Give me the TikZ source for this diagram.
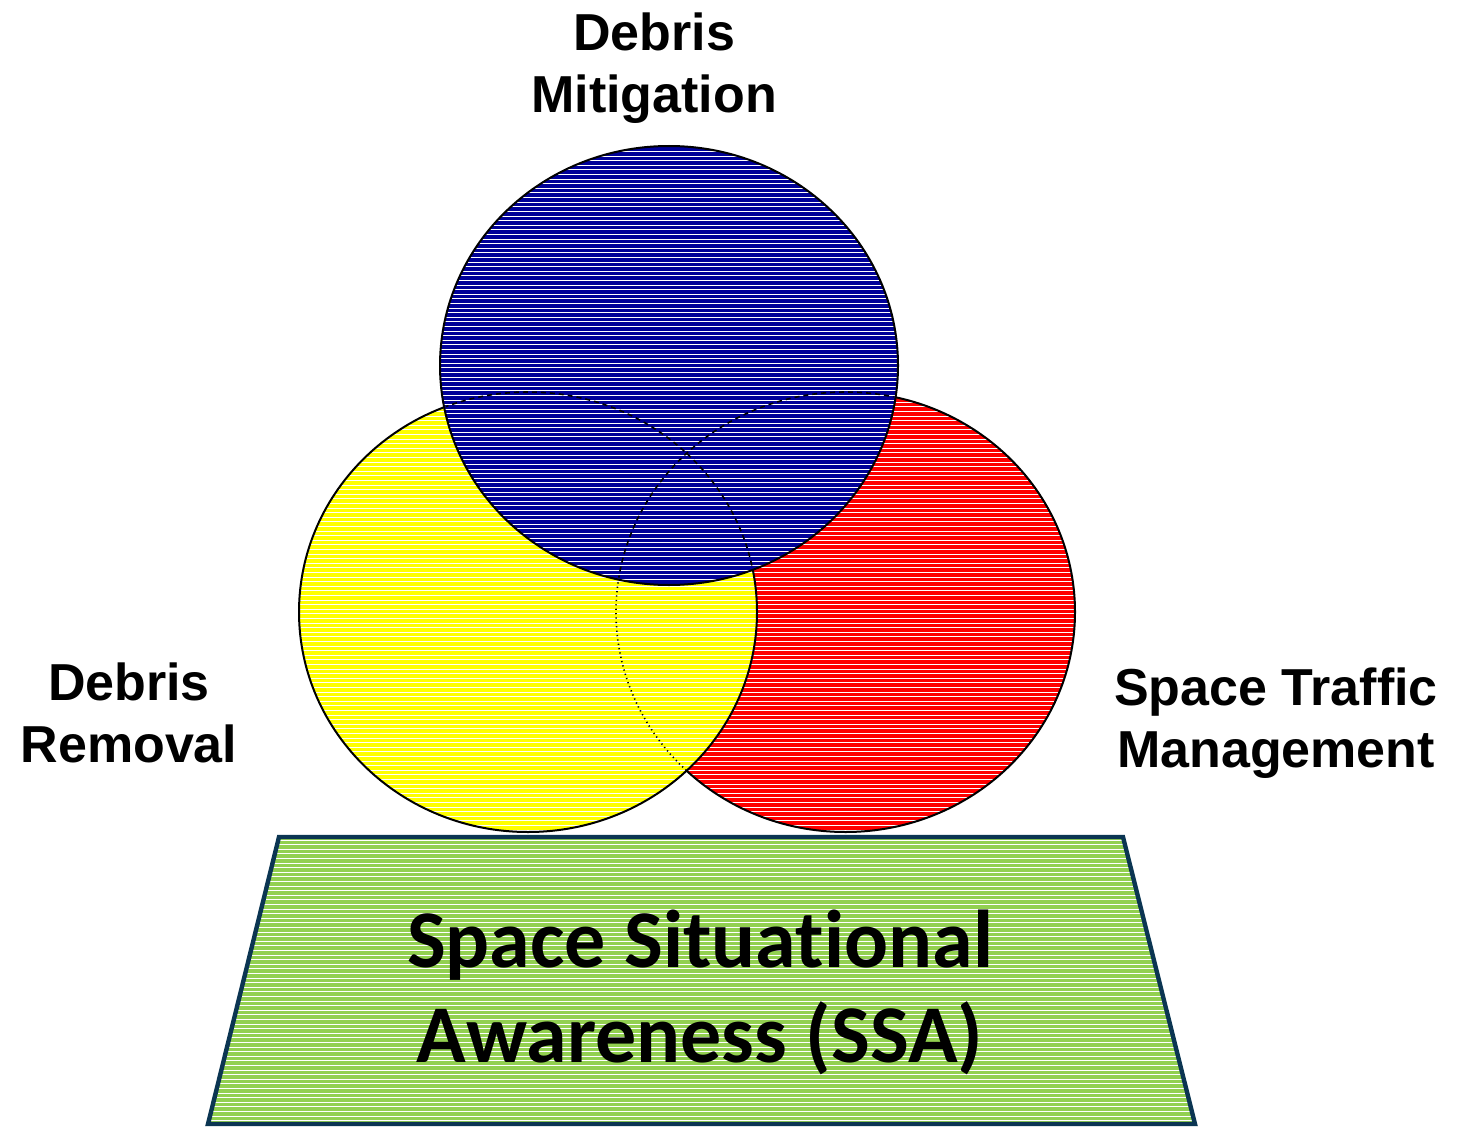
\documentclass[tikz,border=0pt]{standalone}
\usepackage{fontspec}
\setmainfont{Liberation Sans}
\newfontfamily\ssafont[Ligatures=NoCommon]{Carlito}
\definecolor{cblue}{HTML}{000099}
\definecolor{cred}{HTML}{FF0000}
\definecolor{cyellow}{HTML}{FFFF00}
\definecolor{cgreen}{HTML}{92D050}
\definecolor{cnavy}{HTML}{0B3552}
\newcommand\hstripes[3]{%
  \foreach \i in {0,...,#3} {%
    \draw[stripe] (0,{#1+\i*4.6}) -- (1459,{#1+\i*4.6});
  }%
}
\begin{document}
\begin{tikzpicture}[x=0.5pt,y=-0.5pt,
  stripe/.style={white, line width=0.5pt},
  rim/.style={black, line width=1pt},
  hidden/.style={black, line width=0.8pt, dash pattern=on 2.5pt off 2pt},
  dotrim/.style={black, line width=0.8pt, dash pattern=on 0.6pt off 1.6pt},
  label/.style={font=\fontsize{26}{31}\selectfont\bfseries, align=center, inner sep=0pt},
  ssa/.style={font=\fontsize{41}{47.5}\selectfont\ssafont\bfseries, align=center, inner sep=0pt}]
\useasboundingbox (0,0) rectangle (1459,1134);
% red circle
\begin{scope}
  \clip (845.5,612) ellipse [x radius=229.5, y radius=220];
  \fill[cred] (600,380) rectangle (1090,840);
  \hstripes{393}{832}{96}
\end{scope}
\draw[rim] (845.5,612) ellipse [x radius=229.5, y radius=220];
% yellow circle
\begin{scope}
  \clip (528,612) ellipse [x radius=229, y radius=220];
  \fill[cyellow] (290,380) rectangle (770,840);
  \hstripes{393}{832}{96}
\end{scope}
\draw[rim] (528,612) ellipse [x radius=229, y radius=220];
\begin{scope}
  \clip (528,612) ellipse [x radius=229, y radius=220];
  \draw[dotrim] (845.5,612) ellipse [x radius=229.5, y radius=220];
\end{scope}
% blue circle
\begin{scope}
  \clip (669,365.5) ellipse [x radius=229, y radius=219.5];
  \fill[cblue] (430,140) rectangle (910,590);
  \hstripes{147}{585}{96}
\end{scope}
\draw[rim] (669,365.5) ellipse [x radius=229, y radius=219.5];
\begin{scope}
  \clip (669,365.5) ellipse [x radius=227, y radius=217.5];
  \draw[hidden] (528,612) ellipse [x radius=229, y radius=220];
  \draw[hidden] (845.5,612) ellipse [x radius=229.5, y radius=220];
\end{scope}
% SSA trapezoid
\begin{scope}
  \clip (279,837) -- (1123,837) -- (1195,1124) -- (208,1124) -- cycle;
  \fill[cgreen] (200,830) rectangle (1200,1130);
  \hstripes{840}{1124}{62}
\end{scope}
\draw[cnavy, line width=2.2pt, line join=miter] (279,837) -- (1123,837) -- (1195,1124) -- (208,1124) -- cycle;
% labels (anchor = baseline of last line)
\node[label, anchor=base] (dm) at (654,113) {Debris\\Mitigation};
\node[label, anchor=base] (dr) at (129,762) {Debris\\Removal};
\node[label, anchor=base] (stm) at (1276,767) {Space Traffic\\Management};
\node[ssa, anchor=base] (ssatext) at (700,1062) {Space Situational\\Awareness (SSA)};
\end{tikzpicture}
\end{document}
